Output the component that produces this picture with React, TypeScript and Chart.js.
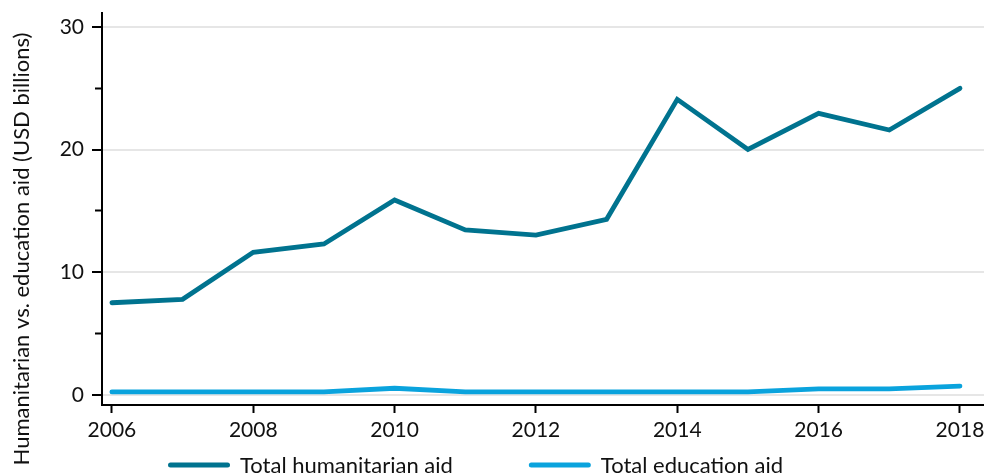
import React, { useEffect, useRef } from "react";
import { Chart, registerables } from "chart.js";

Chart.register(...registerables);

const years = [2006, 2007, 2008, 2009, 2010, 2011, 2012, 2013, 2014, 2015, 2016, 2017, 2018];
const humanitarianAid = [7.52, 7.8, 11.63, 12.31, 15.9, 13.45, 13.04, 14.32, 24.1, 20.02, 22.96, 21.6, 25.0];
const educationAid = [0.25, 0.25, 0.25, 0.25, 0.55, 0.25, 0.25, 0.25, 0.25, 0.25, 0.5, 0.5, 0.72];
const xTickYears = [2006, 2008, 2010, 2012, 2014, 2016, 2018];
const yMajorTicks = [0, 10, 20, 30];
const yMinorTicks = [5, 15, 25];
const seriesLabels = ["Total humanitarian aid", "Total education aid"];
const seriesColors = ["#00738f", "#0aa3dd"];
const yAxisTitle = "Humanitarian vs. education aid (USD billions)";

const FONT = "Lato, 'Open Sans', sans-serif";

const titlePlugin = {
  id: "yTitle",
  afterDraw(chart: any) {
    const ctx = chart.ctx;
    ctx.save();
    ctx.translate(22, 249);
    ctx.rotate(-Math.PI / 2);
    ctx.font = `22px ${FONT}`;
    ctx.fillStyle = "#111";
    ctx.textAlign = "center";
    ctx.textBaseline = "middle";
    ctx.fillText(yAxisTitle, 0, 0);
    ctx.restore();
  },
};

const legendPlugin = {
  id: "customLegend",
  afterDraw(chart: any) {
    const ctx = chart.ctx;
    ctx.save();
    ctx.font = `22px ${FONT}`;
    ctx.textBaseline = "middle";
    ctx.textAlign = "left";
    let x = 168;
    const y = 465;
    chart.data.datasets.forEach((ds: any) => {
      ctx.strokeStyle = ds.borderColor;
      ctx.lineWidth = 5;
      ctx.lineCap = "round";
      ctx.beginPath();
      ctx.moveTo(x + 2.5, y);
      ctx.lineTo(x + 59.5, y);
      ctx.stroke();
      ctx.fillStyle = "#111";
      ctx.fillText(ds.label, x + 72, y + 1);
      const w = ctx.measureText(ds.label).width;
      x = x + 72 + w + 76;
    });
    ctx.restore();
  },
};

export default function App() {
  const ref = useRef<HTMLCanvasElement | null>(null);

  useEffect(() => {
    if (!ref.current) return;
    const chart = new Chart(ref.current, {
      type: "line",
      data: {
        datasets: [
          {
            label: seriesLabels[0],
            data: years.map((y, i) => ({ x: y, y: humanitarianAid[i] })),
            borderColor: seriesColors[0],
            backgroundColor: seriesColors[0],
            borderWidth: 4.8,
            pointRadius: 0,
            tension: 0,
            borderCapStyle: "round",
            borderJoinStyle: "miter",
          },
          {
            label: seriesLabels[1],
            data: years.map((y, i) => ({ x: y, y: educationAid[i] })),
            borderColor: seriesColors[1],
            backgroundColor: seriesColors[1],
            borderWidth: 4.8,
            pointRadius: 0,
            tension: 0,
            borderCapStyle: "round",
            borderJoinStyle: "miter",
          },
        ],
      },
      options: {
        responsive: false,
        animation: false,
        layout: { padding: { top: 13, right: 0, bottom: 0, left: 0 } },
        plugins: {
          legend: { display: false },
          tooltip: { enabled: false },
        },
        scales: {
          x: {
            type: "linear",
            min: 2005.86,
            max: 2018.34,
            afterBuildTicks: (s: any) => {
              s.ticks = xTickYears.map((v) => ({ value: v }));
            },
            afterFit: (s: any) => {
              s.height = 70;
              s.paddingLeft = 0;
              s.paddingRight = 0;
            },
            ticks: {
              autoSkip: false,
              maxRotation: 0,
              padding: 5,
              color: "#111",
              font: { family: FONT, size: 21 },
              callback: (v: any) => String(v),
            },
            grid: {
              drawOnChartArea: false,
              drawTicks: true,
              tickLength: 8,
              tickWidth: 2,
              tickColor: "#000",
            },
            border: { display: true, color: "#000", width: 2 },
          },
          y: {
            type: "linear",
            position: "left",
            weight: 1,
            min: -0.815,
            max: 31.14,
            afterBuildTicks: (s: any) => {
              s.ticks = yMajorTicks.map((v) => ({ value: v }));
            },
            afterFit: (s: any) => {
              s.width = 102;
              s.paddingTop = 0;
              s.paddingBottom = 0;
            },
            ticks: {
              padding: 8,
              color: "#111",
              font: { family: FONT, size: 21 },
              callback: (v: any) => String(v),
            },
            grid: {
              color: "#e6e6e6",
              lineWidth: 2,
              drawTicks: true,
              tickLength: 10,
              tickWidth: 2,
              tickColor: "#000",
            },
            border: { display: true, color: "#000", width: 2 },
          },
          yMinor: {
            type: "linear",
            position: "left",
            weight: 0,
            min: -0.815,
            max: 31.14,
            afterBuildTicks: (s: any) => {
              s.ticks = yMinorTicks.map((v) => ({ value: v }));
            },
            afterFit: (s: any) => {
              s.width = 0;
              s.paddingTop = 0;
              s.paddingBottom = 0;
            },
            ticks: { display: false },
            grid: {
              drawOnChartArea: false,
              drawTicks: true,
              tickLength: 7,
              tickWidth: 2,
              tickColor: "#000",
            },
            border: { display: false },
          },
        },
      },
      plugins: [titlePlugin, legendPlugin],
    });
    return () => chart.destroy();
  }, []);

  return (
    <div style={{ position: "absolute", left: 0, top: 0, width: 984, height: 475, background: "#fff" }}>
      <canvas ref={ref} width={984} height={475} style={{ display: "block" }} />
    </div>
  );
}
